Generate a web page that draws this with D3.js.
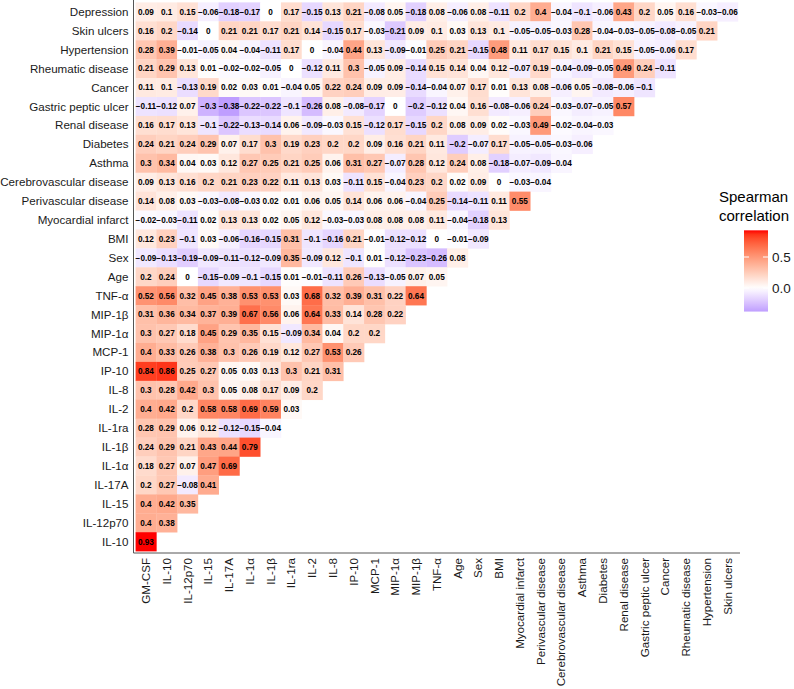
<!DOCTYPE html>
<html><head><meta charset="utf-8">
<script src="https://cdn.jsdelivr.net/npm/d3@7"></script>
<style>body{margin:0;background:#fff}svg{display:block}text{font-family:"Liberation Sans",Arial,sans-serif}</style>
</head><body><svg id="c" width="794" height="689"></svg>
<script>
// Column variables (x axis, left to right)
const columns = ["GM-CSF","IL-10","IL-12p70","IL-15","IL-17A","IL-1α","IL-1β","IL-1ra","IL-2","IL-8","IP-10","MCP-1","MIP-1α","MIP-1β","TNF-α","Age","Sex","BMI","Myocardial infarct","Perivascular disease","Cerebrovascular disease","Asthma","Diabetes","Renal disease","Gastric peptic ulcer","Cancer","Rheumatic disease","Hypertension","Skin ulcers"];
// Row variables (y axis, top to bottom)
const rows = ["Depression","Skin ulcers","Hypertension","Rheumatic disease","Cancer","Gastric peptic ulcer","Renal disease","Diabetes","Asthma","Cerebrovascular disease","Perivascular disease","Myocardial infarct","BMI","Sex","Age","TNF-α","MIP-1β","MIP-1α","MCP-1","IP-10","IL-8","IL-2","IL-1ra","IL-1β","IL-1α","IL-17A","IL-15","IL-12p70","IL-10"];
// Spearman correlations, one list per row (top to bottom), columns left to right
const values = [
 [0.09,0.1,0.15,-0.06,-0.18,-0.17,0,0.17,-0.15,0.13,0.21,-0.08,0.05,-0.18,0.08,-0.06,0.08,-0.11,0.2,0.4,-0.04,-0.1,-0.06,0.43,0.2,0.05,0.16,-0.03,-0.06],
 [0.16,0.2,-0.14,0,0.21,0.21,0.17,0.21,0.14,-0.15,0.17,-0.03,-0.21,0.09,0.1,0.03,0.13,0.1,-0.05,-0.05,-0.03,0.28,-0.04,-0.03,-0.05,-0.08,-0.05,0.21],
 [0.28,0.39,-0.01,-0.05,0.04,-0.04,-0.11,0.17,0,-0.04,0.44,0.13,-0.09,-0.01,0.25,0.21,-0.15,0.48,0.11,0.17,0.15,0.1,0.21,0.15,-0.05,-0.06,0.17],
 [0.21,0.29,0.13,0.01,-0.02,-0.02,-0.05,0,-0.12,0.11,0.3,-0.05,0.09,-0.14,0.15,0.14,0.04,0.12,-0.07,0.19,-0.04,-0.09,-0.05,0.49,0.24,-0.11],
 [0.11,0.1,-0.13,0.19,0.02,0.03,0.01,-0.04,0.05,0.22,0.24,0.09,0.09,-0.14,-0.04,0.07,0.17,0.01,0.13,0.08,-0.06,0.05,-0.08,-0.06,-0.1],
 [-0.11,-0.12,0.07,-0.3,-0.38,-0.22,-0.22,-0.1,-0.26,0.08,-0.08,-0.17,0,-0.2,-0.12,0.04,0.16,-0.08,-0.06,0.24,-0.03,-0.07,-0.05,0.57],
 [0.16,0.17,0.13,-0.1,-0.22,-0.13,-0.14,0.06,-0.09,-0.03,0.15,-0.12,0.17,-0.15,0.2,0.08,0.09,0.02,-0.03,0.49,-0.02,-0.04,-0.03],
 [0.24,0.21,0.24,0.29,0.07,0.17,0.3,0.19,0.23,0.2,0.2,0.09,0.16,0.21,0.11,-0.2,-0.07,0.17,-0.05,-0.05,-0.03,-0.06],
 [0.3,0.34,0.04,0.03,0.12,0.27,0.25,0.21,0.25,0.06,0.31,0.27,-0.07,0.28,0.12,0.24,0.08,-0.18,-0.07,-0.09,-0.04],
 [0.09,0.13,0.16,0.2,0.21,0.23,0.22,0.11,0.13,0.03,-0.11,0.15,-0.04,0.23,0.2,0.02,0.09,0,-0.03,-0.04],
 [0.14,0.08,0.03,-0.03,-0.08,-0.03,0.02,0.01,0.06,0.05,0.14,0.06,0.06,-0.04,0.25,-0.14,-0.11,0.11,0.55],
 [-0.02,-0.03,-0.11,0.02,0.13,0.13,0.02,0.05,0.12,-0.03,-0.03,0.08,0.08,0.08,0.11,-0.04,-0.18,0.13],
 [0.12,0.23,-0.1,0.03,-0.06,-0.16,-0.15,0.31,-0.1,-0.16,0.21,-0.01,-0.12,-0.12,0,-0.01,-0.09],
 [-0.09,-0.13,-0.19,-0.09,-0.11,-0.12,-0.09,0.35,-0.09,0.12,-0.1,0.01,-0.12,-0.23,-0.26,0.08],
 [0.2,0.24,0,-0.15,-0.09,-0.1,-0.15,0.01,-0.01,-0.11,0.26,-0.13,-0.05,0.07,0.05],
 [0.52,0.56,0.32,0.45,0.38,0.53,0.53,0.03,0.68,0.32,0.39,0.31,0.22,0.64],
 [0.31,0.36,0.34,0.37,0.39,0.67,0.56,0.06,0.64,0.33,0.14,0.28,0.22],
 [0.3,0.27,0.18,0.45,0.29,0.35,0.15,-0.09,0.34,0.04,0.2,0.2],
 [0.4,0.33,0.26,0.38,0.3,0.26,0.19,0.12,0.27,0.53,0.26],
 [0.84,0.86,0.25,0.27,0.05,0.03,0.13,0.3,0.21,0.31],
 [0.3,0.28,0.42,0.3,0.05,0.08,0.17,0.09,0.2],
 [0.4,0.42,0.2,0.58,0.58,0.69,0.59,0.03],
 [0.28,0.29,0.06,0.12,-0.12,-0.15,-0.04],
 [0.24,0.29,0.21,0.43,0.44,0.79],
 [0.18,0.27,0.07,0.47,0.69],
 [0.2,0.27,-0.08,0.41],
 [0.4,0.42,0.35],
 [0.4,0.38],
 [0.93]
];
const legendTicks = [0.0, 0.5];
const legendTitle = ["Spearman","correlation"];

const svg = d3.select("#c");
const pLeft = 133.5, pRight = 740, pTop = 0.5, pBottom = 553;
const x = d3.scaleBand().domain(columns).range([pLeft, pRight]).paddingInner(0).paddingOuter(0.1);
const y = d3.scaleBand().domain(rows).range([pTop, pBottom]).paddingInner(0).paddingOuter(0.1);

const cells = [];
values.forEach((r, i) => r.forEach((v, j) => cells.push({row: rows[i], col: columns[j], v})));
const all = cells.map(d => d.v);
const vmin = d3.min(all), vmax = d3.max(all);
const m = Math.max(Math.abs(vmin), Math.abs(vmax));
const posI = d3.interpolateLab("#ffffff", "#ff0000");
const negI = d3.interpolateLab("#ffffff", "#0000ff");
const color = v => v >= 0 ? posI(v / m) : negI(-v / m);

const g = svg.append("g");
g.selectAll("rect.cell").data(cells).join("rect").attr("class","cell")
  .attr("x", d => x(d.col)).attr("y", d => y(d.row))
  .attr("width", x.bandwidth() + 0.3).attr("height", y.bandwidth() + 0.3)
  .attr("fill", d => color(d.v));
const fmt = v => (v < 0 ? "\u2212" : "") + String(Math.abs(v));
g.selectAll("text.val").data(cells).join("text").attr("class","val")
  .attr("x", d => x(d.col) + x.bandwidth()/2).attr("y", d => y(d.row) + y.bandwidth()/2)
  .attr("text-anchor","middle").attr("dy","0.35em")
  .attr("font-size", 8.2).attr("font-weight","bold").attr("fill","#000")
  .text(d => fmt(d.v));

// axes lines
svg.append("line").attr("x1", pLeft).attr("x2", pLeft).attr("y1", 0).attr("y2", pBottom).attr("stroke","#555").attr("stroke-width",1);
svg.append("line").attr("x1", pLeft).attr("x2", pRight).attr("y1", pBottom).attr("y2", pBottom).attr("stroke","#555").attr("stroke-width",1);

// y labels
svg.selectAll("text.ylab").data(rows).join("text").attr("class","ylab")
  .attr("x", pLeft - 5).attr("y", d => y(d) + y.bandwidth()/2).attr("dy","0.35em")
  .attr("text-anchor","end").attr("font-size", 11.6).attr("fill","#1a1a1a").text(d => d);
// x labels
svg.selectAll("text.xlab").data(columns).join("text").attr("class","xlab")
  .attr("transform", d => `translate(${x(d) + x.bandwidth()/2},${pBottom + 5}) rotate(-90)`)
  .attr("dy","0.35em").attr("text-anchor","end").attr("font-size", 11.6).attr("fill","#1a1a1a").text(d => d);

// legend
const lx = 744, lw = 24;
const ly = d3.scaleLinear().domain([0, 0.5]).range([288, 257]);
const defs = svg.append("defs");
const grad = defs.append("linearGradient").attr("id","lg").attr("x1",0).attr("x2",0).attr("y1",1).attr("y2",0);
d3.range(0, 21).forEach(k => {
  const v = vmin + (vmax - vmin) * k / 20;
  grad.append("stop").attr("offset", k/20).attr("stop-color", color(v));
});
svg.append("rect").attr("x", lx).attr("y", ly(vmax)).attr("width", lw).attr("height", ly(vmin) - ly(vmax)).attr("fill","url(#lg)");
legendTicks.forEach(t => {
  svg.append("line").attr("x1", lx).attr("x2", lx + 5).attr("y1", ly(t)).attr("y2", ly(t)).attr("stroke","#fff");
  svg.append("line").attr("x1", lx + lw - 5).attr("x2", lx + lw).attr("y1", ly(t)).attr("y2", ly(t)).attr("stroke","#fff");
  svg.append("text").attr("x", lx + lw + 4).attr("y", ly(t)).attr("dy","0.35em").attr("font-size", 13.5).attr("fill","#1a1a1a").text(t.toFixed(1));
});
svg.append("text").attr("x", 719).attr("y", 202).attr("font-size", 15).attr("fill","#000")
  .selectAll("tspan").data(legendTitle).join("tspan").attr("x", 719).attr("dy", (d,i) => i ? 19 : 0).text(d => d);
</script></body></html>
